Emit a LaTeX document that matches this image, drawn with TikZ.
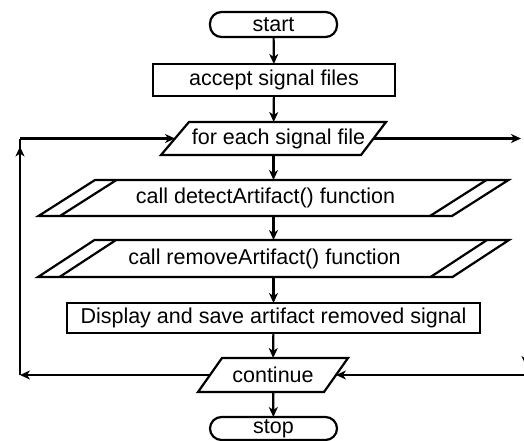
\documentclass[tikz,border=0pt]{standalone}
\usepackage{fontspec}
\setmainfont{Liberation Sans}
\usetikzlibrary{arrows.meta,calc}
\begin{document}
\begin{tikzpicture}[x=1pt,y=-1pt,line width=2.2pt,
  >={Stealth[length=10pt,width=9pt,inset=3pt]},
  base/.style={inner sep=0pt,outer sep=0pt,font=\fontsize{21.5}{25}\selectfont},
  term/.style={base,draw,rounded corners=11.5pt},
  proc/.style={base,draw},
  io/.style={base,draw=none},
  txt/.style={base}]
\clip (0,0) rectangle (524,441);

\node[term,minimum width=127pt,minimum height=25pt] (start) at (273.5,24.5) {start};
\node[proc,minimum width=242pt,minimum height=32pt] (accept) at (274,80) {accept signal files};
\node[io,minimum width=225pt,minimum height=33pt,
  label={[txt,xshift=5pt]center:for each signal file}] (each) at (273.5,138.5) {};
\node[io,minimum width=470pt,minimum height=36pt,
  label={[txt,xshift=-8pt]center:call detectArtifact() function}] (detect) at (273.5,198) {};
\node[io,minimum width=471pt,minimum height=37pt,
  label={[txt,xshift=-9pt]center:call removeArtifact() function}] (remove) at (273.5,258.5) {};
\node[proc,minimum width=413pt,minimum height=30pt] (display) at (273.5,318) {Display and save artifact removed signal};
\node[io,minimum width=150pt,minimum height=34pt,
  label={[txt]center:continue}] (cont) at (273,375) {};
\node[term,minimum width=127pt,minimum height=23pt] (stop) at (273.5,428.5) {stop};

% parallelogram outlines
\draw ([xshift=28pt]each.north west) -- (each.north east) -- ([xshift=-25pt]each.south east) -- (each.south west) -- cycle;
\draw ([xshift=24pt]cont.north west) -- (cont.north east) -- ([xshift=-24pt]cont.south east) -- (cont.south west) -- cycle;
\foreach \n in {detect,remove}{
  \draw ([xshift=56.5pt]\n.north west) -- (\n.north east) -- ([xshift=-56.5pt]\n.south east) -- (\n.south west) -- cycle;
  \draw ([xshift=78pt]\n.north west) -- ([xshift=21.5pt]\n.south west);
  \draw ([xshift=-22pt]\n.north east) -- ([xshift=-78.5pt]\n.south east);
}

% side points
\coordinate (eachL) at ($([xshift=28pt]each.north west)!0.5!(each.south west)$);
\coordinate (eachR) at ($(each.north east)!0.5!([xshift=-25pt]each.south east)$);
\coordinate (contL) at ($([xshift=24pt]cont.north west)!0.5!(cont.south west)$);
\coordinate (contR) at ($(cont.north east)!0.5!([xshift=-24pt]cont.south east)$);
\coordinate (L1) at (20,375);
\coordinate (L2) at (20,138.5);
\coordinate (R1) at (521,138.5);
\coordinate (R2) at (526,375);
\coordinate (R3) at (526,300);
\coordinate (R4) at (526,366);

% main flow
\draw[->] (start) -- (accept);
\draw[->] (accept) -- (each);
\draw[->] (each) -- (detect);
\draw[->] (detect) -- (remove);
\draw[->] (remove) -- (display);
\draw[->] (display) -- (cont);
\draw[->] (cont) -- (stop);

% loops
\draw[->] (contL) -- (L1);
\draw (L1) -- (L2);
\draw[->] (L1) -- ([yshift=-8pt]L2);
\draw[->] (L2) -- (eachL);
\draw[->] (eachR) -- (R1);
\draw[->] (R2) -- (contR);
\draw[->] (R3) -- (R4);
\end{tikzpicture}
\end{document}
